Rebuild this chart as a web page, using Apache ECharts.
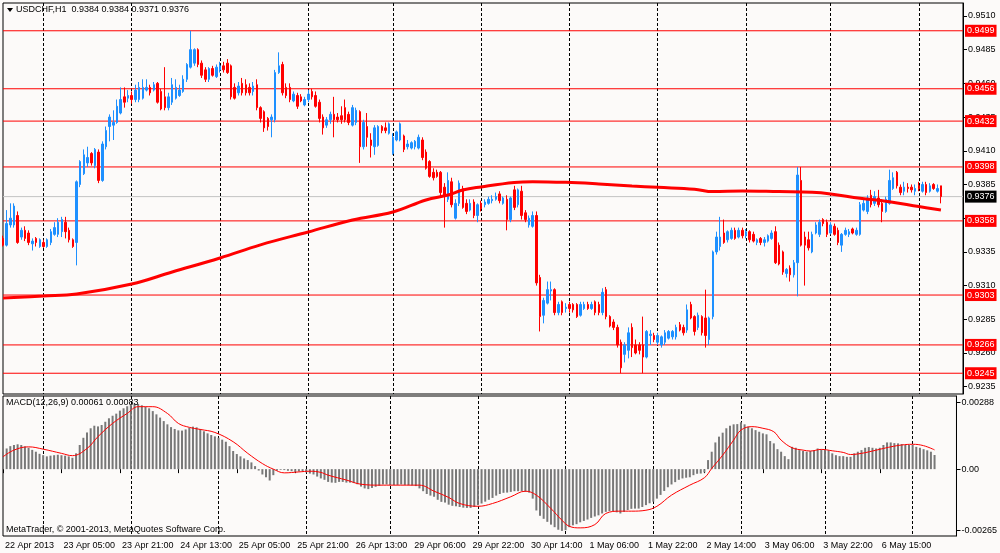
<!DOCTYPE html>
<html><head><meta charset="utf-8">
<script src="https://cdn.jsdelivr.net/npm/echarts@6/dist/echarts.min.js"></script>
<style>html,body{margin:0;padding:0;background:#fcfaf9;}#c{width:1000px;height:553px;}</style>
</head><body><div id="c"></div>
<script>
const FONT = "'Liberation Sans',Arial,sans-serif";
const FS = 9;

const open = [
0.9345,0.9340,0.9355,0.9355,0.9362,0.9346,0.9351,0.9349,0.9341,0.9345,
0.9339,0.9342,0.9339,0.9342,0.9348,0.9348,0.9350,0.9357,0.9351,0.9344,
0.9342,0.9385,0.9393,0.9401,0.9408,0.9399,0.9409,0.9388,0.9413,0.9428,
0.9429,0.9431,0.9438,0.9450,0.9449,0.9451,0.9448,0.9448,0.9449,0.9455,
0.9457,0.9455,0.9460,0.9454,0.9450,0.9442,0.9446,0.9449,0.9451,0.9454,
0.9463,0.9472,0.9475,0.9485,0.9475,0.9470,0.9463,0.9471,0.9465,0.9470,
0.9473,0.9475,0.9473,0.9457,0.9453,0.9460,0.9459,0.9457,0.9454,0.9459,
0.9442,0.9439,0.9434,0.9433,0.9433,0.9468,0.9474,0.9457,0.9457,0.9447,
0.9451,0.9450,0.9444,0.9448,0.9454,0.9451,0.9446,0.9435,0.9429,0.9433,
0.9437,0.9435,0.9436,0.9442,0.9437,0.9429,0.9431,0.9439,0.9413,0.9428,
0.9418,0.9413,0.9414,0.9428,0.9427,0.9423,0.9408,0.9418,0.9418,0.9421,
0.9413,0.9412,0.9413,0.9412,0.9418,0.9409,0.9402,0.9394,0.9394,0.9394,
0.9383,0.9374,0.9387,0.9360,0.9371,0.9382,0.9371,0.9366,0.9372,0.9362,
0.9371,0.9370,0.9371,0.9373,0.9374,0.9378,0.9371,0.9374,0.9359,0.9381,
0.9370,0.9380,0.9364,0.9355,0.9354,0.9362,0.9316,0.9288,0.9297,0.9306,
0.9307,0.9290,0.9298,0.9293,0.9296,0.9296,0.9296,0.9288,0.9293,0.9296,
0.9293,0.9298,0.9296,0.9290,0.9307,0.9287,0.9283,0.9279,0.9268,0.9259,
0.9262,0.9279,0.9266,0.9266,0.9266,0.9257,0.9273,0.9273,0.9268,0.9266,
0.9268,0.9271,0.9272,0.9272,0.9281,0.9279,0.9277,0.9296,0.9287,0.9279,
0.9287,0.9286,0.9270,0.9287,0.9335,0.9339,0.9349,0.9344,0.9345,0.9351,
0.9346,0.9351,0.9347,0.9350,0.9348,0.9342,0.9345,0.9342,0.9343,0.9345,
0.9350,0.9340,0.9335,0.9319,0.9323,0.9318,0.9327,0.9388,0.9346,0.9344,
0.9335,0.9349,0.9348,0.9359,0.9357,0.9349,0.9354,0.9351,0.9340,0.9348,
0.9348,0.9352,0.9348,0.9348,0.9366,0.9365,0.9377,0.9371,0.9375,0.9371,
0.9365,0.9371,0.9382,0.9394,0.9383,0.9380,0.9383,0.9383,0.9380,0.9384,
0.9380,0.9385,0.9380,0.9385,0.9380,0.9384];
const close = [
0.9340,0.9356,0.9360,0.9369,0.9342,0.9351,0.9345,0.9342,0.9343,0.9342,
0.9344,0.9339,0.9344,0.9350,0.9353,0.9357,0.9359,0.9350,0.9344,0.9339,
0.9387,0.9402,0.9407,0.9405,0.9401,0.9411,0.9388,0.9415,0.9425,0.9435,
0.9431,0.9443,0.9448,0.9446,0.9451,0.9448,0.9455,0.9457,0.9457,0.9457,
0.9453,0.9459,0.9446,0.9441,0.9442,0.9450,0.9459,0.9457,0.9455,0.9463,
0.9474,0.9485,0.9485,0.9474,0.9466,0.9463,0.9471,0.9466,0.9472,0.9473,
0.9470,0.9468,0.9450,0.9449,0.9458,0.9453,0.9453,0.9453,0.9458,0.9442,
0.9434,0.9427,0.9428,0.9435,0.9468,0.9473,0.9453,0.9451,0.9448,0.9452,
0.9443,0.9447,0.9448,0.9452,0.9450,0.9443,0.9434,0.9427,0.9433,0.9437,
0.9433,0.9433,0.9433,0.9433,0.9431,0.9442,0.9440,0.9413,0.9431,0.9420,
0.9414,0.9427,0.9428,0.9425,0.9425,0.9430,0.9420,0.9424,0.9430,0.9411,
0.9415,0.9416,0.9417,0.9420,0.9405,0.9397,0.9391,0.9390,0.9391,0.9379,
0.9377,0.9388,0.9370,0.9371,0.9386,0.9368,0.9365,0.9371,0.9362,0.9370,
0.9367,0.9372,0.9374,0.9374,0.9376,0.9373,0.9375,0.9359,0.9375,0.9368,
0.9381,0.9362,0.9359,0.9360,0.9362,0.9312,0.9287,0.9299,0.9307,0.9307,
0.9290,0.9296,0.9290,0.9294,0.9293,0.9292,0.9287,0.9296,0.9296,0.9293,
0.9296,0.9290,0.9290,0.9305,0.9287,0.9280,0.9279,0.9266,0.9249,0.9266,
0.9275,0.9264,0.9260,0.9262,0.9257,0.9276,0.9274,0.9270,0.9273,0.9272,
0.9275,0.9276,0.9276,0.9279,0.9277,0.9275,0.9292,0.9286,0.9276,0.9288,
0.9275,0.9273,0.9286,0.9335,0.9346,0.9346,0.9342,0.9350,0.9351,0.9345,
0.9351,0.9347,0.9350,0.9344,0.9343,0.9344,0.9342,0.9344,0.9347,0.9349,
0.9327,0.9326,0.9320,0.9322,0.9318,0.9327,0.9392,0.9340,0.9340,0.9338,
0.9348,0.9355,0.9357,0.9356,0.9348,0.9355,0.9348,0.9342,0.9348,0.9351,
0.9350,0.9349,0.9351,0.9370,0.9371,0.9375,0.9370,0.9376,0.9370,0.9365,
0.9374,0.9388,0.9390,0.9384,0.9379,0.9383,0.9382,0.9381,0.9382,0.9382,
0.9385,0.9379,0.9384,0.9382,0.9382,0.9376];
const low = [
0.9339,0.9339,0.9353,0.9353,0.9341,0.9344,0.9343,0.9340,0.9336,0.9339,
0.9338,0.9338,0.9338,0.9340,0.9347,0.9346,0.9346,0.9345,0.9342,0.9338,
0.9325,0.9383,0.9392,0.9398,0.9399,0.9397,0.9386,0.9387,0.9411,0.9417,
0.9418,0.9430,0.9437,0.9442,0.9446,0.9445,0.9446,0.9446,0.9448,0.9454,
0.9451,0.9454,0.9445,0.9440,0.9440,0.9440,0.9444,0.9448,0.9450,0.9453,
0.9461,0.9471,0.9473,0.9472,0.9464,0.9461,0.9461,0.9465,0.9464,0.9468,
0.9468,0.9467,0.9448,0.9448,0.9451,0.9451,0.9451,0.9451,0.9451,0.9440,
0.9431,0.9424,0.9425,0.9420,0.9431,0.9467,0.9451,0.9449,0.9446,0.9446,
0.9441,0.9446,0.9443,0.9446,0.9448,0.9442,0.9431,0.9422,0.9427,0.9430,
0.9420,0.9431,0.9430,0.9431,0.9429,0.9428,0.9429,0.9401,0.9411,0.9413,
0.9405,0.9407,0.9413,0.9423,0.9423,0.9422,0.9407,0.9417,0.9417,0.9409,
0.9411,0.9411,0.9411,0.9411,0.9403,0.9396,0.9390,0.9388,0.9390,0.9376,
0.9353,0.9372,0.9368,0.9359,0.9369,0.9367,0.9363,0.9365,0.9360,0.9357,
0.9365,0.9368,0.9370,0.9371,0.9373,0.9371,0.9370,0.9351,0.9357,0.9366,
0.9368,0.9359,0.9357,0.9353,0.9353,0.9310,0.9276,0.9282,0.9296,0.9299,
0.9288,0.9288,0.9288,0.9290,0.9290,0.9290,0.9286,0.9287,0.9292,0.9292,
0.9292,0.9288,0.9288,0.9288,0.9285,0.9279,0.9277,0.9264,0.9245,0.9253,
0.9256,0.9257,0.9259,0.9259,0.9245,0.9256,0.9266,0.9268,0.9266,0.9264,
0.9266,0.9270,0.9270,0.9270,0.9276,0.9273,0.9275,0.9285,0.9273,0.9277,
0.9273,0.9264,0.9266,0.9285,0.9333,0.9336,0.9341,0.9342,0.9344,0.9344,
0.9345,0.9345,0.9345,0.9342,0.9342,0.9340,0.9340,0.9339,0.9342,0.9344,
0.9326,0.9325,0.9318,0.9316,0.9313,0.9316,0.9302,0.9339,0.9310,0.9336,
0.9334,0.9348,0.9346,0.9354,0.9346,0.9348,0.9347,0.9340,0.9335,0.9347,
0.9346,0.9348,0.9347,0.9347,0.9365,0.9363,0.9368,0.9369,0.9368,0.9357,
0.9364,0.9370,0.9381,0.9382,0.9377,0.9377,0.9379,0.9379,0.9377,0.9380,
0.9379,0.9377,0.9379,0.9381,0.9379,0.9371];
const high = [
0.9347,0.9366,0.9371,0.9371,0.9365,0.9353,0.9354,0.9351,0.9345,0.9346,
0.9345,0.9344,0.9345,0.9352,0.9357,0.9360,0.9361,0.9361,0.9353,0.9345,
0.9388,0.9403,0.9411,0.9413,0.9409,0.9412,0.9411,0.9417,0.9428,0.9437,
0.9440,0.9448,0.9457,0.9457,0.9455,0.9454,0.9459,0.9461,0.9463,0.9463,
0.9459,0.9461,0.9461,0.9456,0.9472,0.9453,0.9464,0.9463,0.9459,0.9466,
0.9475,0.9499,0.9486,0.9486,0.9477,0.9472,0.9472,0.9473,0.9474,0.9476,
0.9476,0.9478,0.9474,0.9460,0.9461,0.9464,0.9463,0.9460,0.9461,0.9463,
0.9443,0.9440,0.9435,0.9437,0.9470,0.9483,0.9476,0.9460,0.9460,0.9454,
0.9453,0.9452,0.9450,0.9455,0.9456,0.9454,0.9448,0.9437,0.9435,0.9439,
0.9450,0.9438,0.9443,0.9448,0.9439,0.9444,0.9442,0.9440,0.9433,0.9438,
0.9423,0.9429,0.9429,0.9429,0.9431,0.9431,0.9423,0.9425,0.9431,0.9422,
0.9418,0.9417,0.9418,0.9422,0.9420,0.9411,0.9403,0.9397,0.9396,0.9395,
0.9386,0.9394,0.9390,0.9374,0.9388,0.9384,0.9374,0.9374,0.9374,0.9371,
0.9373,0.9374,0.9376,0.9377,0.9379,0.9380,0.9376,0.9377,0.9376,0.9384,
0.9382,0.9384,0.9366,0.9362,0.9365,0.9365,0.9318,0.9301,0.9313,0.9313,
0.9308,0.9298,0.9299,0.9297,0.9298,0.9297,0.9297,0.9298,0.9298,0.9298,
0.9298,0.9299,0.9298,0.9308,0.9309,0.9288,0.9285,0.9281,0.9270,0.9268,
0.9279,0.9282,0.9270,0.9268,0.9287,0.9277,0.9277,0.9275,0.9275,0.9273,
0.9277,0.9277,0.9277,0.9281,0.9283,0.9281,0.9296,0.9298,0.9288,0.9290,
0.9288,0.9307,0.9287,0.9336,0.9350,0.9361,0.9359,0.9351,0.9353,0.9353,
0.9353,0.9353,0.9352,0.9351,0.9350,0.9345,0.9346,0.9346,0.9348,0.9351,
0.9354,0.9342,0.9336,0.9323,0.9325,0.9329,0.9398,0.9398,0.9350,0.9350,
0.9350,0.9357,0.9359,0.9360,0.9359,0.9357,0.9356,0.9353,0.9349,0.9353,
0.9352,0.9353,0.9353,0.9372,0.9374,0.9377,0.9381,0.9380,0.9381,0.9374,
0.9376,0.9396,0.9394,0.9395,0.9385,0.9387,0.9386,0.9385,0.9385,0.9387,
0.9387,0.9387,0.9386,0.9386,0.9385,0.9384];

// moving average, read at [bar index, price]
const maPoints = [[0,0.93008],[11,0.93023],[20,0.93038],[35,0.93112],[46,0.93201],[59,0.93305],[70,0.93402],[83,0.93498],[95,0.93587],[106,0.93646],[115,0.93735],[121,0.93772],[125,0.93809],[130,0.93832],[139,0.93865],[144,0.93871],[153,0.93866],[162,0.93854],[171,0.93839],[178,0.93829],[188,0.93815],[193,0.93797],[201,0.93802],[211,0.93797],[220,0.93792],[225,0.93780],[233,0.93748],[241,0.93722],[249,0.93686],[255,0.93661]];

const macdHist = [
0.00075,0.00089,0.00099,0.00104,0.00107,0.00104,0.00098,0.00092,0.00083,0.00075,
0.00066,0.00060,0.00055,0.00058,0.00060,0.00062,0.00060,0.00058,0.00055,0.00049,
0.00068,0.00104,0.00135,0.00158,0.00176,0.00187,0.00184,0.00190,0.00204,0.00219,
0.00230,0.00239,0.00252,0.00262,0.00271,0.00278,0.00282,0.00281,0.00275,0.00269,
0.00262,0.00250,0.00236,0.00222,0.00207,0.00193,0.00181,0.00173,0.00167,0.00166,
0.00171,0.00178,0.00183,0.00180,0.00173,0.00163,0.00154,0.00147,0.00141,0.00135,
0.00127,0.00118,0.00099,0.00078,0.00065,0.00055,0.00046,0.00039,0.00029,0.00013,
-0.00006,-0.00023,-0.00035,-0.00049,-0.00026,-0.00006,-0.00003,-0.00004,-0.00007,-0.00009,
-0.00012,-0.00010,-0.00010,-0.00014,-0.00019,-0.00023,-0.00032,-0.00040,-0.00046,-0.00055,
-0.00058,-0.00059,-0.00055,-0.00055,-0.00058,-0.00058,-0.00060,-0.00065,-0.00075,-0.00083,
-0.00086,-0.00081,-0.00076,-0.00072,-0.00066,-0.00066,-0.00069,-0.00069,-0.00068,-0.00066,
-0.00068,-0.00069,-0.00071,-0.00073,-0.00083,-0.00095,-0.00107,-0.00114,-0.00119,-0.00132,
-0.00141,-0.00144,-0.00153,-0.00158,-0.00160,-0.00163,-0.00166,-0.00167,-0.00167,-0.00163,
-0.00155,-0.00148,-0.00140,-0.00132,-0.00124,-0.00114,-0.00107,-0.00102,-0.00101,-0.00098,
-0.00095,-0.00095,-0.00095,-0.00098,-0.00101,-0.00127,-0.00178,-0.00201,-0.00214,-0.00227,
-0.00239,-0.00250,-0.00261,-0.00266,-0.00263,-0.00250,-0.00242,-0.00237,-0.00229,-0.00223,
-0.00217,-0.00210,-0.00204,-0.00199,-0.00191,-0.00184,-0.00181,-0.00181,-0.00186,-0.00191,
-0.00184,-0.00176,-0.00171,-0.00170,-0.00170,-0.00163,-0.00155,-0.00147,-0.00140,-0.00127,
-0.00111,-0.00094,-0.00078,-0.00066,-0.00056,-0.00046,-0.00040,-0.00037,-0.00035,-0.00026,
-0.00020,-0.00019,-0.00014,0.00039,0.00075,0.00115,0.00140,0.00157,0.00176,0.00187,
0.00193,0.00194,0.00202,0.00193,0.00183,0.00176,0.00168,0.00161,0.00154,0.00150,
0.00121,0.00111,0.00086,0.00075,0.00056,0.00043,0.00096,0.00092,0.00082,0.00078,
0.00075,0.00078,0.00082,0.00089,0.00085,0.00086,0.00081,0.00068,0.00060,0.00056,
0.00056,0.00053,0.00053,0.00068,0.00075,0.00082,0.00092,0.00095,0.00092,0.00089,
0.00092,0.00104,0.00115,0.00115,0.00112,0.00111,0.00108,0.00104,0.00104,0.00104,
0.00096,0.00092,0.00086,0.00081,0.00075,0.00061];

// signal line, read at [bar index, value]
const macdSignal = [[0,0.00053],[3,0.00082],[7,0.00096],[11,0.00086],[16,0.00068],[19,0.00058],[23,0.00089],[26,0.00140],[30,0.00197],[34,0.00240],[37,0.00269],[41,0.00269],[45,0.00240],[48,0.00197],[51,0.00180],[54,0.00171],[58,0.00158],[63,0.00118],[67,0.00068],[71,0.00024],[74,0.00000],[77,-0.00016],[81,-0.00012],[84,-0.00009],[87,-0.00014],[89,-0.00026],[94,-0.00047],[98,-0.00065],[103,-0.00069],[107,-0.00069],[114,-0.00069],[118,-0.00095],[122,-0.00122],[125,-0.00148],[130,-0.00160],[134,-0.00148],[139,-0.00119],[143,-0.00095],[146,-0.00112],[150,-0.00170],[153,-0.00220],[155,-0.00246],[158,-0.00253],[162,-0.00239],[165,-0.00191],[169,-0.00181],[172,-0.00181],[176,-0.00177],[179,-0.00160],[183,-0.00112],[188,-0.00069],[192,-0.00037],[194,0.00003],[197,0.00060],[200,0.00125],[202,0.00168],[205,0.00183],[208,0.00176],[211,0.00161],[213,0.00125],[216,0.00092],[219,0.00082],[221,0.00078],[224,0.00085],[227,0.00079],[230,0.00072],[232,0.00063],[235,0.00068],[238,0.00078],[241,0.00089],[243,0.00096],[246,0.00104],[249,0.00107],[252,0.00101],[255,0.00083]];

const levels = [0.9499,0.9456,0.9432,0.9398,0.9358,0.9303,0.9266,0.9245];
const priceTicks = [0.9235,0.9260,0.9285,0.9310,0.9335,0.9360,0.9385,0.9410,0.9435,0.9460,0.9485,0.9510];
const macdTicks = [-0.00265,0,0.00288];
const timeTickIdx = [0,16,32,48,64,80,96,112,128,144,160,176,192,208,224,240];
const timeTickLabels = ['22 Apr 2013','23 Apr 05:00','23 Apr 21:00','24 Apr 13:00','25 Apr 05:00','25 Apr 21:00','26 Apr 13:00','29 Apr 06:00','29 Apr 22:00','30 Apr 14:00','1 May 06:00','1 May 22:00','2 May 14:00','3 May 06:00','3 May 22:00','6 May 15:00'];
const dayStartIdx = [11,35,59,83,106,130,154,178,202,225,249];
const SLOTS = 262;

const cats = Array.from({length: SLOTS}, (_, i) => String(i));
const ohlc = open.map((o, i) => [o, close[i], low[i], high[i]]);
const last = open.length - 1;
const fmt4 = v => Number(v).toFixed(4);

// horizontal level line spanning the whole panel, with its price box at the right end
const levelSeries = (v, lineColor, boxColor, z) => ({
  type:'line', xAxisIndex:0, yAxisIndex:0, z:z, silent:true, showSymbol:false, symbol:'none',
  data:[[0, v], [SLOTS - 1, v]],
  lineStyle:{color:lineColor, width:1, type:'solid'},
  endLabel:{show:true, distance:2, formatter:() => fmt4(v), color:'#fff', backgroundColor:boxColor,
    padding:[1,2,1,2], fontSize:FS, fontFamily:FONT, lineHeight:10}
});

const xCommon = {type:'category', data:cats, boundaryGap:false, axisLine:{show:false},
  splitLine:{show:true, interval:(i)=>dayStartIdx.includes(i), lineStyle:{color:'#000', type:[3,2], width:1}}};

const series = [levelSeries(close[last], '#c4c4c4', '#000000', 1)];
levels.forEach(v => series.push(levelSeries(v, '#ff0000', '#ff0000', 1)));
series.push(
  {type:'candlestick', xAxisIndex:0, yAxisIndex:0, data:ohlc, barWidth:2, z:2,
    itemStyle:{color:'#1e90ff', color0:'#ff0000', borderColor:'#1e90ff', borderColor0:'#ff0000', borderColorDoji:'#1e90ff', borderWidth:1}},
  {type:'line', xAxisIndex:0, yAxisIndex:0, data:maPoints, smooth:0.4, showSymbol:false,
    lineStyle:{color:'#ff0000', width:3}, z:3},
  {type:'bar', xAxisIndex:1, yAxisIndex:1, data:macdHist, barWidth:2, itemStyle:{color:'#787878'}},
  {type:'line', xAxisIndex:1, yAxisIndex:1, data:macdSignal, smooth:0.4, showSymbol:false,
    lineStyle:{color:'#ff0000', width:1}, z:3}
);

const chart = echarts.init(document.getElementById('c'), null, {renderer:'canvas'});
chart.setOption({
  animation:false,
  backgroundColor:'#fcfaf9',
  grid:[
    {left:3, right:37, top:3, height:391, show:true, borderColor:'#000', borderWidth:1},
    {left:3, right:37, top:396, height:140, show:true, borderColor:'#000', borderWidth:1}
  ],
  xAxis:[
    Object.assign({}, xCommon, {gridIndex:0, axisTick:{show:false}, axisLabel:{show:false}}),
    Object.assign({}, xCommon, {gridIndex:1,
      axisTick:{show:true, interval:(i)=>timeTickIdx.includes(i), length:4, lineStyle:{color:'#000'}},
      axisLabel:{show:true, interval:(i)=>timeTickIdx.includes(i), align:'left', margin:5,
        formatter:(v, i)=>{const k = timeTickIdx.indexOf(i); return k >= 0 ? timeTickLabels[k] : '';},
        color:'#000', fontSize:FS, fontFamily:FONT, padding:[0,0,0,2]}})
  ],
  yAxis:[
    {type:'value', gridIndex:0, position:'right', min:0.92296, max:0.95196, scale:true,
      axisLine:{show:true, lineStyle:{color:'#000'}},
      axisTick:{show:true, customValues:priceTicks, length:4, lineStyle:{color:'#000'}},
      axisLabel:{show:true, customValues:priceTicks, formatter:fmt4, margin:5, color:'#000', fontSize:FS, fontFamily:FONT},
      splitLine:{show:false}},
    {type:'value', gridIndex:1, position:'right', min:-0.00288, max:0.00315,
      axisLine:{show:true, lineStyle:{color:'#000'}},
      axisTick:{show:true, customValues:macdTicks, length:4, lineStyle:{color:'#000'}},
      axisLabel:{show:true, customValues:macdTicks, formatter:v => v === 0 ? '0.00' : Number(v).toFixed(5), margin:5, color:'#000', fontSize:FS, fontFamily:FONT},
      splitLine:{show:false}}
  ],
  series: series,
  graphic:[
    {type:'polygon', shape:{points:[[7,8],[13,8],[10,12]]}, style:{fill:'#000'}, z:10},
    {type:'text', left:16, top:5, z:10, style:{text:'USDCHF,H1  ' + [open[last],high[last],low[last],close[last]].map(fmt4).join(' '),
      fill:'#000', font:FS + 'px ' + FONT}},
    {type:'text', left:6, top:398, z:10, style:{text:'MACD(12,26,9) ' + macdHist[last].toFixed(5) + ' ' + macdSignal[macdSignal.length-1][1].toFixed(5),
      fill:'#000', font:FS + 'px ' + FONT}},
    {type:'text', left:6, top:525, z:10, style:{text:'MetaTrader, \u00a9 2001-2013, MetaQuotes Software Corp.',
      fill:'#000', font:FS + 'px ' + FONT}}
  ]
});
</script></body></html>
